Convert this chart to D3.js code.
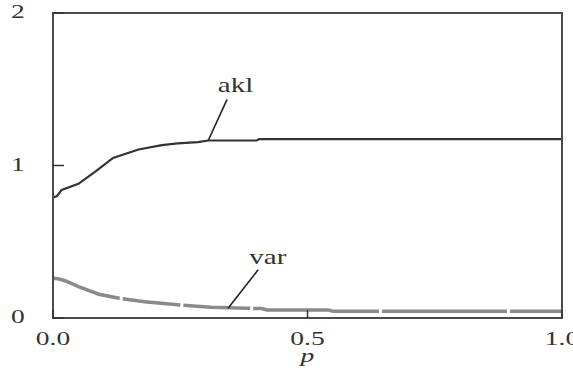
<!DOCTYPE html>
<html lang="en">
<head>
<meta charset="UTF-8">
<title>akl / var</title>
<script src="https://cdn.jsdelivr.net/npm/d3@7/dist/d3.min.js"></script>
<style>
  body { margin: 0; background: #fff; }
  text { font-family: "Liberation Serif", "Times New Roman", serif; fill: #333; }
</style>
</head>
<body>
<script>
    // data
    var aklP = [0, 0.008, 0.017, 0.05, 0.083, 0.118, 0.168, 0.214, 0.245, 0.285, 0.305, 0.40, 0.405, 1.0]
    var aklV = [0.79, 0.80, 0.84, 0.88, 0.96, 1.05, 1.105, 1.134, 1.145, 1.153, 1.164, 1.164, 1.173, 1.173]
    var varP = [0, 0.01, 0.025, 0.05, 0.09, 0.13, 0.18, 0.25, 0.31, 0.38, 0.41, 0.42, 0.54, 0.55, 1.0]
    var varV = [0.26, 0.257, 0.243, 0.206, 0.156, 0.13, 0.107, 0.086, 0.07, 0.064, 0.062, 0.053, 0.053, 0.045, 0.045]
    var xTicks = [0, 0.5, 1]
    var xTickLabels = ['0.0', '0.5', '1.0']
    var yTicks = [0, 1, 2]
    var yTickLabels = ['0', '1', '2']

    // labels: [text, label p, label value, leader top p, leader top value, anchor p, anchor value]
    var labels = [
        ['akl', 0.3585, 1.48, 0.342, 1.434, 0.305, 1.164],
        ['var', 0.422, 0.355, 0.403, 0.316, 0.344, 0.064]
    ]

    var width = 573
    var height = 374
    var stretch = 1.45   // the type in the picture is drawn wide

    var x = d3.scaleLinear().domain([0, 1]).range([53, 562])
    var y = d3.scaleLinear().domain([0, 2]).range([318, 13])

    var svg = d3.select('body')
        .append('svg')
        .attr('width', width)
        .attr('height', height)

    function wideText(px, py, str, size) {
        return svg.append('text')
            .attr('transform', 'translate(' + px + ',' + py + ') scale(' + stretch + ',1)')
            .attr('text-anchor', 'middle')
            .attr('font-size', size)
            .text(str)
    }

    // curves
    var line = d3.line()
        .x(function (d) { return x(d[0]) })
        .y(function (d) { return y(d[1]) })

    svg.append('path')
        .datum(d3.zip(varP, varV))
        .attr('d', line)
        .attr('fill', 'none')
        .attr('stroke', '#8a8a8a')
        .attr('stroke-width', 3.5)
        .attr('stroke-dasharray', '70,3,58,3,67,3,126,3,125,3,300')

    svg.append('path')
        .datum(d3.zip(aklP, aklV))
        .attr('d', line)
        .attr('fill', 'none')
        .attr('stroke', '#333')
        .attr('stroke-width', 2.2)

    // frame
    svg.append('rect')
        .attr('x', x(0))
        .attr('y', y(2))
        .attr('width', x(1) - x(0))
        .attr('height', y(0) - y(2))
        .attr('fill', 'none')
        .attr('stroke', '#4a4a4a')
        .attr('stroke-width', 2)

    // ticks, pointing inward
    svg.selectAll('.xtick')
        .data(xTicks)
        .enter()
        .append('line')
        .attr('x1', function (d) { return x(d) })
        .attr('x2', function (d) { return x(d) })
        .attr('y1', y(0))
        .attr('y2', y(0) - 8)
        .attr('stroke', '#333')
        .attr('stroke-width', 1.5)

    svg.selectAll('.ytick')
        .data(yTicks)
        .enter()
        .append('line')
        .attr('x1', x(0))
        .attr('x2', x(0) + 11)
        .attr('y1', function (d) { return y(d) })
        .attr('y2', function (d) { return y(d) })
        .attr('stroke', '#333')
        .attr('stroke-width', 1.5)

    xTicks.forEach(function (d, i) {
        wideText(x(d), 345, xTickLabels[i], 19)
    })
    yTicks.forEach(function (d, i) {
        wideText(18, y(d) + 5, yTickLabels[i], 19)
    })

    svg.append('text')
        .attr('transform', 'translate(' + x(0.5) + ',362) scale(' + stretch + ',1)')
        .attr('text-anchor', 'middle')
        .attr('font-size', 19)
        .attr('font-style', 'italic')
        .text('p')

    // series labels with leader lines
    labels.forEach(function (l) {
        svg.append('line')
            .attr('x1', x(l[3]))
            .attr('y1', y(l[4]))
            .attr('x2', x(l[5]))
            .attr('y2', y(l[6]))
            .attr('stroke', '#222')
            .attr('stroke-width', 1.6)
        wideText(x(l[1]), y(l[2]), l[0], 20)
    })
</script>
</body>
</html>
